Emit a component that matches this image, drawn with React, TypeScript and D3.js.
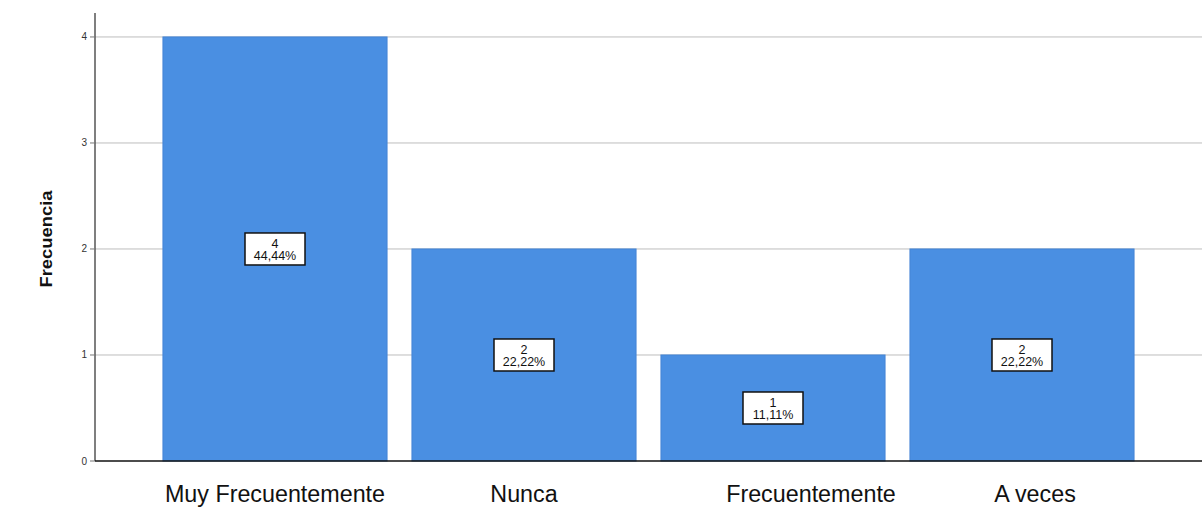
import React from "react";
import * as d3 from "d3";

const categories = ["Muy Frecuentemente", "Nunca", "Frecuentemente", "A veces"];
const counts = [4, 2, 1, 2];
const percents = ["44,44%", "22,22%", "11,11%", "22,22%"];
const yTicks = [0, 1, 2, 3, 4];
const yTitle = "Frecuencia";

const W = 1202;
const H = 531;
const axisX = 95;
// small horizontal nudges of the category labels seen in the reference
const labelNudge = [0, 0, 38, 13];

export default function App() {
  const x = d3.scaleBand<string>().domain(categories).range([150.5, 1146.5]).paddingInner(0.1).paddingOuter(0.05);
  const y = d3.scaleLinear().domain([0, 4.226]).range([461, 13]);
  const bw = x.bandwidth();
  const font = "Arial, 'Liberation Sans', sans-serif";

  return (
    <svg width={W} height={H} style={{ position: "fixed", left: 0, top: 0, background: "#fff" }} fontFamily={font}>
      <rect x={0} y={0} width={W} height={H} fill="#fff" />
      {/* gridlines */}
      {yTicks.filter((t) => t > 0).map((t) => (
        <line key={"g" + t} x1={axisX} x2={W} y1={y(t)} y2={y(t)} stroke="#bdbdbd" strokeWidth={1} />
      ))}
      {/* bars */}
      {categories.map((c, i) => (
        <rect key={c} x={x(c)} y={y(counts[i])} width={bw} height={y(0) - y(counts[i])} fill="#4a8fe2" stroke="#4585d6" strokeWidth={1} />
      ))}
      {/* data labels */}
      {categories.map((c, i) => {
        const cx = (x(c) as number) + bw / 2;
        const cy = y(counts[i] / 2);
        return (
          <g key={"l" + c}>
            <rect x={cx - 30} y={cy - 16} width={60} height={32} fill="#fff" stroke="#111" strokeWidth={1.5} />
            <text x={cx} y={cy - 1} textAnchor="middle" fontSize={12.5} fill="#111">{counts[i]}</text>
            <text x={cx} y={cy + 11} textAnchor="middle" fontSize={12.5} fill="#111">{percents[i]}</text>
          </g>
        );
      })}
      {/* y axis */}
      <line x1={axisX} x2={axisX} y1={y(4.226)} y2={y(0)} stroke="#555" strokeWidth={1.5} />
      {yTicks.map((t) => (
        <g key={"t" + t}>
          <line x1={axisX - 5} x2={axisX} y1={y(t)} y2={y(t)} stroke="#777" strokeWidth={1} />
          <text x={87} y={y(t) + 3.5} textAnchor="end" fontSize={10} fill="#333">{t}</text>
        </g>
      ))}
      {/* x axis */}
      <line x1={axisX} x2={W} y1={y(0)} y2={y(0)} stroke="#111" strokeWidth={1.5} />
      {categories.map((c, i) => (
        <text key={"c" + c} x={(x(c) as number) + bw / 2 + labelNudge[i]} y={502} textAnchor="middle" fontSize={23.3} fill="#111">{c}</text>
      ))}
      <text transform={`translate(52,239) rotate(-90)`} textAnchor="middle" fontSize={17} fontWeight={600} fill="#111" textLength={97} lengthAdjust="spacingAndGlyphs">{yTitle}</text>
    </svg>
  );
}
